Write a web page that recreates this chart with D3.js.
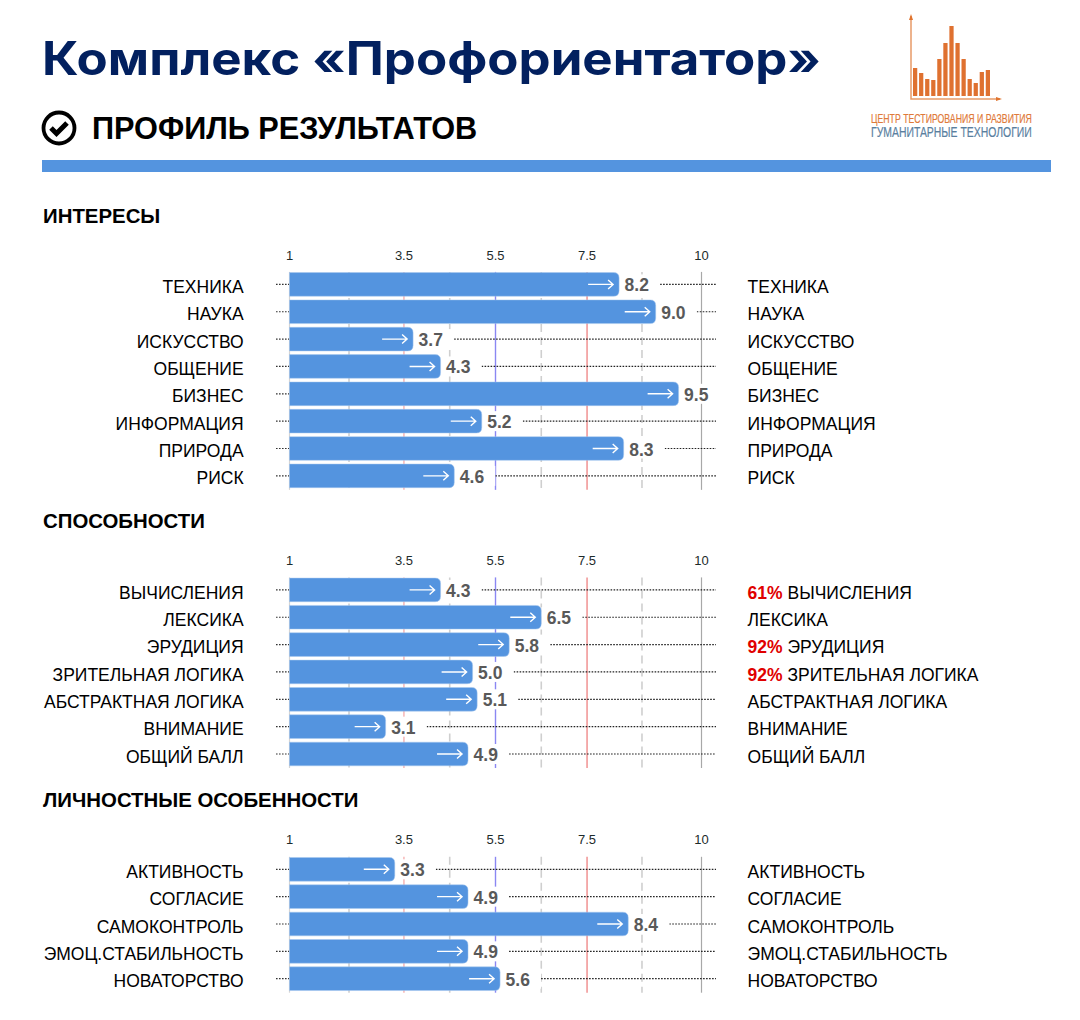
<!DOCTYPE html>
<html lang="ru"><head><meta charset="utf-8">
<script src="https://cdn.jsdelivr.net/npm/d3@7/dist/d3.min.js"></script>
<style>html,body{margin:0;padding:0;background:#fff}svg{display:block}text{font-family:"Liberation Sans",Arial,sans-serif}</style>
</head><body><svg id="c" width="1080" height="1020"></svg>
<script>
const titleText = "Комплекс «Профориентатор»";
const subtitleText = "ПРОФИЛЬ РЕЗУЛЬТАТОВ";
const logoLine1 = "ЦЕНТР ТЕСТИРОВАНИЯ И РАЗВИТИЯ";
const logoLine2 = "ГУМАНИТАРНЫЕ ТЕХНОЛОГИИ";
const logoValues = [28,23,17,16,37,53,70,53,37,17,13,24,26];

const axisTicks = [1,3.5,5.5,7.5,10];
const dashedTicks = [2.3,4.5,6.5,8.7];

const interestNames = ["ТЕХНИКА","НАУКА","ИСКУССТВО","ОБЩЕНИЕ","БИЗНЕС","ИНФОРМАЦИЯ","ПРИРОДА","РИСК"];
const interestValues = [8.2,9.0,3.7,4.3,9.5,5.2,8.3,4.6];
const interestPct = [null,null,null,null,null,null,null,null];

const abilityNames = ["ВЫЧИСЛЕНИЯ","ЛЕКСИКА","ЭРУДИЦИЯ","ЗРИТЕЛЬНАЯ ЛОГИКА","АБСТРАКТНАЯ ЛОГИКА","ВНИМАНИЕ","ОБЩИЙ БАЛЛ"];
const abilityValues = [4.3,6.5,5.8,5.0,5.1,3.1,4.9];
const abilityPct = ["61%",null,"92%","92%",null,null,null];

const personalNames = ["АКТИВНОСТЬ","СОГЛАСИЕ","САМОКОНТРОЛЬ","ЭМОЦ.СТАБИЛЬНОСТЬ","НОВАТОРСТВО"];
const personalValues = [3.3,4.9,8.4,4.9,5.6];
const personalPct = [null,null,null,null,null];

const sectionTitles = ["ИНТЕРЕСЫ","СПОСОБНОСТИ","ЛИЧНОСТНЫЕ ОСОБЕННОСТИ"];

const BLUE="#5494df", ROW=27.35;
const svg=d3.select("#c");
const x=d3.scaleLinear().domain([1,10]).range([289.5,701.5]);

// Header
svg.append("text").text(titleText).attr("x",42).attr("y",75)
  .attr("font-size",46).attr("font-weight",700).attr("fill","#02205f")
  .style("font-family","Inter").attr("textLength",779).attr("lengthAdjust","spacingAndGlyphs");
const ic=svg.append("g").attr("transform","translate(59,128)");
ic.append("circle").attr("r",15.5).attr("fill","none").attr("stroke","#000").attr("stroke-width",3.8);
ic.append("path").attr("d","M-8,0 L-2.5,5.5 L8,-5").attr("fill","none").attr("stroke","#000").attr("stroke-width",5);
svg.append("text").text(subtitleText).attr("x",92).attr("y",138.5)
  .attr("font-size",30.7).attr("font-weight",700).attr("fill","#000");
svg.append("rect").attr("x",42).attr("y",160).attr("width",1009).attr("height",12).attr("fill",BLUE);

// Logo
const lx=d3.scaleBand().domain(d3.range(logoValues.length)).range([913,990]).paddingInner(0.3);
const ly=d3.scaleLinear().domain([0,70]).range([96,26]);
svg.append("g").selectAll("rect").data(logoValues).join("rect")
  .attr("x",(d,i)=>lx(i)).attr("width",lx.bandwidth()).attr("y",d=>ly(d)).attr("height",d=>96-ly(d)).attr("fill","#df7130");
svg.append("path").attr("d","M911,16 V99 H1000").attr("fill","none").attr("stroke","#e79a68").attr("stroke-width",1.5);
svg.append("path").attr("d","M911,14 l-2,6 h4 z M1002,99 l-6,-2 v4 z").attr("fill","#e0742f");
function logoText(str,y,size,fill){
  const t=svg.append("text").text(str).attr("font-size",size).attr("fill",fill).attr("stroke",fill).attr("stroke-width",0.2);
  const w=t.node().getComputedTextLength();
  t.attr("transform",`translate(871,${y}) scale(${161/w},1)`);
}
logoText(logoLine1,123,12,"#df7a3a");
logoText(logoLine2,137,14,"#5a7f9f");

function panel(sectionTitle, titleY, tickY, firstCenter, names, values, pct){
  const n=names.length;
  const y=d3.scaleBand().domain(d3.range(n))
    .range([firstCenter-ROW/2, firstCenter-ROW/2+n*ROW]).paddingInner(0.135).paddingOuter(0.0675);
  const top=firstCenter-12.5, bottom=firstCenter+(n-1)*ROW+14;
  const g=svg.append("g");
  g.append("text").text(sectionTitle).attr("x",43).attr("y",titleY)
    .attr("font-size",20.4).attr("font-weight",700).attr("fill","#000");

  g.append("g").selectAll("text").data(axisTicks).join("text").text(d=>d)
    .attr("x",d=>x(d)).attr("y",tickY).attr("text-anchor","middle").attr("font-size",13).attr("fill","#1d2b2b");

  const colors={1:"#d4d4d4",3.5:"#f4a3a3",5.5:"#8a87f2",7.5:"#f08a8a",10:"#a8a8a8"};
  g.append("g").selectAll("line").data(axisTicks).join("line")
    .attr("x1",d=>x(d)).attr("x2",d=>x(d)).attr("y1",top).attr("y2",bottom)
    .attr("stroke",d=>colors[d]).attr("stroke-width",d=>d===5.5||d===7.5?1.4:1.2);
  g.append("g").selectAll("line").data(dashedTicks).join("line")
    .attr("x1",d=>x(d)).attr("x2",d=>x(d)).attr("y1",top).attr("y2",bottom)
    .attr("stroke","#cfcfcf").attr("stroke-width",1.6).attr("stroke-dasharray","8 5");

  const cy=i=>y(i)+y.bandwidth()/2;
  const rows=g.append("g").selectAll("g").data(values).join("g");
  // leader dots
  rows.append("line").attr("x1",276).attr("x2",289).attr("y1",(d,i)=>cy(i)).attr("y2",(d,i)=>cy(i))
    .attr("stroke","#333").attr("stroke-width",1.2).attr("stroke-dasharray","1.6 1.4");
  rows.append("line").attr("x1",d=>Math.min(x(d)+41,716)).attr("x2",716).attr("y1",(d,i)=>cy(i)).attr("y2",(d,i)=>cy(i))
    .attr("stroke","#222").attr("stroke-width",1.2).attr("stroke-dasharray","1.6 1.4");
  // white label backing
  rows.append("rect").attr("x",d=>x(d)).attr("width",41).attr("y",(d,i)=>cy(i)-10).attr("height",20).attr("fill","#fff");
  // bars
  const r=5.5;
  rows.append("path").attr("d",(d,i)=>{
      const x0=x(1),x1=x(d),t=y(i),b=y(i)+y.bandwidth();
      return `M${x0},${t}H${x1-r}Q${x1},${t} ${x1},${t+r}V${b-r}Q${x1},${b} ${x1-r},${b}H${x0}Z`;
    }).attr("fill",BLUE).attr("stroke","#a9c8ef").attr("stroke-width",0.5);
  // arrows
  rows.append("path").attr("d",(d,i)=>{
      const e=x(d)-6,c=cy(i);
      return `M${e-25},${c}H${e}M${e-5},${c-4.5}L${e},${c}L${e-5},${c+4.5}`;
    }).attr("fill","none").attr("stroke","#fff").attr("stroke-width",1.4);
  // values
  rows.append("text").text(d=>d.toFixed(1)).attr("x",d=>x(d)+5.5).attr("y",(d,i)=>cy(i)+7)
    .attr("font-size",17.5).attr("font-weight",700).attr("fill","#595959");
  // labels
  g.append("g").selectAll("text").data(names).join("text").text(d=>d)
    .attr("x",243.6).attr("y",(d,i)=>cy(i)+8.6).attr("text-anchor","end").attr("font-size",17.5).attr("fill","#000");
  const rt=g.append("g").selectAll("text").data(names).join("text")
    .attr("x",747.6).attr("y",(d,i)=>cy(i)+8.6).attr("font-size",17.5).attr("fill","#000");
  rt.append("tspan").text((d,i)=>pct[i]?pct[i]+" ":"").attr("font-weight",700).attr("fill","#e00000");
  rt.append("tspan").text(d=>d);
}
panel(sectionTitles[0],222.5,260,284.4,interestNames,interestValues,interestPct);
panel(sectionTitles[1],527.5,565,589.9,abilityNames,abilityValues,abilityPct);
panel(sectionTitles[2],806.5,844,869.3,personalNames,personalValues,personalPct);
</script></body></html>
